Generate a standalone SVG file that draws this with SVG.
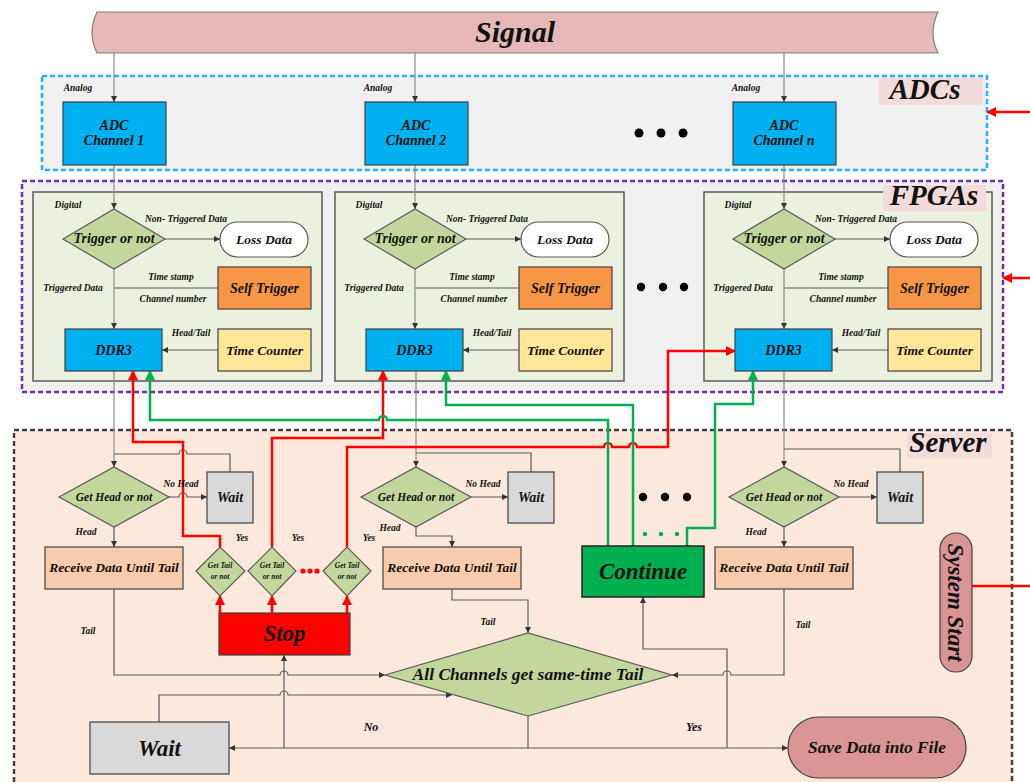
<svg xmlns="http://www.w3.org/2000/svg" width="1030" height="782" viewBox="0 0 1030 782">
<style>
.t{font-family:"Liberation Serif","Times New Roman",serif;font-weight:bold;font-style:italic;fill:#111;text-anchor:middle}
.lbl{font-size:9.5px}
.ln{fill:none;stroke:#5a5a5a;stroke-width:1.2}
.gr{fill:none;stroke:#8c8c8c;stroke-width:1.2}
.rd{fill:none;stroke:#ff0000;stroke-width:2.5}
.gn{fill:none;stroke:#00b050;stroke-width:2.5}
.box{stroke:#404040;stroke-width:1.2}
.dia{fill:#c3d69b;stroke:#595959;stroke-width:1.2}
.adc{fill:#00b0f0}
.ddr{fill:#00b0f0}
.st{fill:#f79646}
.tc{fill:#ffe699}
.wait{fill:#d9d9d9}
.rcv{fill:#f8cbad}
.rose{fill:#da9694}
.tag{fill:#f2dcdb}
</style>
<defs>
<marker id="ak" markerUnits="userSpaceOnUse" markerWidth="6" markerHeight="6" refX="6" refY="3" orient="auto"><path d="M0,0 L6,3 L0,6 z" fill="#333"/></marker>
<marker id="ar" markerUnits="userSpaceOnUse" markerWidth="10" markerHeight="10" refX="9" refY="5" orient="auto"><path d="M0,0 L10,5 L0,10 z" fill="#ff0000"/></marker>
<marker id="ag" markerUnits="userSpaceOnUse" markerWidth="10" markerHeight="10" refX="9" refY="5" orient="auto"><path d="M0,0 L10,5 L0,10 z" fill="#00b050"/></marker>
</defs>
<rect width="1030" height="782" fill="#ffffff"/>

<g id="containers">
  <rect x="14" y="430" width="998" height="370" fill="#fce9dc" stroke="#404040" stroke-width="2.5" stroke-dasharray="5,3"/>
  <rect x="907" y="433" width="85" height="25" class="tag"/>
  <text class="t" x="948" y="452" font-size="29">Server</text>
  <rect x="42" y="76" width="945" height="94" fill="#f0f0f0" stroke="#1fb4f0" stroke-width="2.5" stroke-dasharray="5,3"/>
  <rect x="879" y="78" width="104" height="27" class="tag"/>
  <text class="t" x="925" y="99" font-size="29">ADCs</text>
  <rect x="22" y="181" width="981" height="211" fill="#f0f0f0" stroke="#7030a0" stroke-width="2.5" stroke-dasharray="5,3"/>
  <rect x="33" y="192" width="289" height="189" fill="#ebf1de" stroke="#595959" stroke-width="1.5"/>
  <rect x="335" y="192" width="289" height="189" fill="#ebf1de" stroke="#595959" stroke-width="1.5"/>
  <rect x="704" y="192" width="288" height="189" fill="#ebf1de" stroke="#595959" stroke-width="1.5"/>
  <rect x="883" y="185" width="103" height="26" class="tag"/>
  <text class="t" x="934" y="205" font-size="29">FPGAs</text>
</g>

<g id="connectors">
  <path class="gr" d="M114,53 V102" marker-end="url(#ak)"/>
  <path class="gr" d="M415,53 V102" marker-end="url(#ak)"/>
  <path class="gr" d="M784,53 V102" marker-end="url(#ak)"/>
  <path class="gr" d="M114,165 V209" marker-end="url(#ak)"/>
  <path class="gr" d="M415,165 V209" marker-end="url(#ak)"/>
  <path class="gr" d="M784,165 V209" marker-end="url(#ak)"/>
  <path class="ln" d="M165,239 H220" marker-end="url(#ak)"/>
  <path class="ln" d="M466,239 H521" marker-end="url(#ak)"/>
  <path class="ln" d="M835,239 H890" marker-end="url(#ak)"/>
  <path class="ln" d="M114,288 H218"/>
  <path class="ln" d="M415,288 H519"/>
  <path class="ln" d="M784,288 H888"/>
  <path class="gr" d="M114,269 V329" marker-end="url(#ak)"/>
  <path class="gr" d="M415,269 V329" marker-end="url(#ak)"/>
  <path class="gr" d="M784,269 V329" marker-end="url(#ak)"/>
  <path class="ln" d="M218,350 H162" marker-end="url(#ak)"/>
  <path class="ln" d="M519,350 H463" marker-end="url(#ak)"/>
  <path class="ln" d="M888,350 H832" marker-end="url(#ak)"/>
  <path class="gr" d="M114,371 V467" marker-end="url(#ak)"/>
  <path class="gr" d="M416,371 V467" marker-end="url(#ak)"/>
  <path class="gr" d="M784,371 V467" marker-end="url(#ak)"/>
  <path class="ln" d="M230,472 V454 H187 a4,4 0 0 0 -8,0 H114"/>
  <path class="ln" d="M531,472 V453 H416"/>
  <path class="ln" d="M900,472 V449 H784"/>
  <path class="ln" d="M169,497 H179 a4,4 0 0 1 8,0 H207" marker-end="url(#ak)"/>
  <path class="ln" d="M471,497 H508" marker-end="url(#ak)"/>
  <path class="ln" d="M839,497 H877" marker-end="url(#ak)"/>
  <path class="ln" d="M114,527 V547" marker-end="url(#ak)"/>
  <path class="ln" d="M416,527 V536 H452 V547" marker-end="url(#ak)"/>
  <path class="ln" d="M784,527 V547" marker-end="url(#ak)"/>
  <path class="ln" d="M114,589 V675 H280 a4,4 0 0 1 8,0 H385" marker-end="url(#ak)"/>
  <path class="ln" d="M452,589 V600 H528 V633" marker-end="url(#ak)"/>
  <path class="ln" d="M784,589 V675 H731 a4,4 0 0 0 -8,0 H672" marker-end="url(#ak)"/>
  <path class="ln" d="M159,722 V695 H280 a4,4 0 0 1 8,0 H452" marker-end="url(#ak)"/>
  <path class="ln" d="M528,716 V748 H229" marker-end="url(#ak)"/>
  <path class="ln" d="M528,748 H788" marker-end="url(#ak)"/>
  <path class="ln" d="M284,748 V655" marker-end="url(#ak)"/>
  <path class="ln" d="M727,748 V649 H643 V597" marker-end="url(#ak)"/>
  <path class="rd" d="M220,547 V536 H183 V442 H133 V371" marker-end="url(#ar)"/>
  <path class="rd" d="M272,547 V438 H383 V371" marker-end="url(#ar)"/>
  <path class="rd" d="M347,547 V447 H604 a4,4 0 0 1 8,0 H629 a4,4 0 0 1 8,0 H668 V351 H735" marker-end="url(#ar)"/>
  <path class="rd" d="M220,613 V596" marker-end="url(#ar)"/>
  <path class="rd" d="M272,613 V596" marker-end="url(#ar)"/>
  <path class="rd" d="M347,613 V596" marker-end="url(#ar)"/>
  <path class="rd" d="M1030,112 H987" marker-end="url(#ar)"/>
  <path class="rd" d="M1030,278 H1003" marker-end="url(#ar)"/>
  <path class="rd" d="M972,586 H1030"/>
  <circle cx="303" cy="571" r="2.6" fill="#ff0000"/>
  <circle cx="310" cy="571" r="2.6" fill="#ff0000"/>
  <circle cx="317" cy="571" r="2.6" fill="#ff0000"/>
  <path class="gn" d="M608,546 V420 H387 a4,4 0 0 0 -8,0 H150 V371" marker-end="url(#ag)"/>
  <path class="gn" d="M633,546 V405 H446 V371" marker-end="url(#ag)"/>
  <path class="gn" d="M687,546 V528 H715 V404 H753 V371" marker-end="url(#ag)"/>
  <circle cx="645" cy="534" r="2.2" fill="#00b050"/>
  <circle cx="661" cy="534" r="2.2" fill="#00b050"/>
  <circle cx="677" cy="534" r="2.2" fill="#00b050"/>
</g>

<g id="signal">
  <path d="M97,12 L938,12 Q928,33 938,53 L97,53 Q87,33 97,12 Z" fill="#e6b9b8" stroke="#7f7f7f" stroke-width="1.2"/>
  <text class="t" x="515" y="42" font-size="30">Signal</text>
</g>

<g id="adc1"><rect x="63" y="102" width="103" height="63" class="adc box"/><text class="t" x="114" y="130" font-size="14">ADC</text><text class="t" x="114" y="145" font-size="14">Channel 1</text><text class="t lbl" x="78" y="91" font-size="9">Analog</text></g>
<g id="adc2"><rect x="365" y="102" width="103" height="63" class="adc box"/><text class="t" x="416" y="130" font-size="14">ADC</text><text class="t" x="416" y="145" font-size="14">Channel 2</text><text class="t lbl" x="378" y="91" font-size="9">Analog</text></g>
<g id="adcn"><rect x="733" y="102" width="103" height="63" class="adc box"/><text class="t" x="784" y="130" font-size="14">ADC</text><text class="t" x="784" y="145" font-size="14">Channel n</text><text class="t lbl" x="746" y="91" font-size="9">Analog</text></g>
<g id="adc-dots"><circle cx="639" cy="133" r="4.5" fill="#000"/><circle cx="661" cy="133" r="4.5" fill="#000"/><circle cx="683" cy="133" r="4.5" fill="#000"/></g>

<g id="fpga1">
  <polygon points="63,239 114,209 165,239 114,269" class="dia"/>
  <text class="t" x="114" y="243" font-size="14">Trigger or not</text>
  <rect x="220" y="222" width="88" height="35" rx="17.5" fill="#fff" stroke="#595959" stroke-width="1.2"/>
  <text class="t" x="264" y="244" font-size="13.5">Loss Data</text>
  <rect x="218" y="267" width="93" height="42" class="st box"/>
  <text class="t" x="264.5" y="293" font-size="14">Self Trigger</text>
  <rect x="65" y="329" width="97" height="42" class="ddr box"/>
  <text class="t" x="113.5" y="355" font-size="14">DDR3</text>
  <rect x="218" y="329" width="93" height="42" class="tc box"/>
  <text class="t" x="264.5" y="355" font-size="13.5">Time Counter</text>
  <text class="t lbl" x="68" y="208">Digital</text>
  <text class="t lbl" x="186" y="222">Non- Triggered Data</text>
  <text class="t lbl" x="171" y="280">Time stamp</text>
  <text class="t lbl" x="173" y="302">Channel number</text>
  <text class="t lbl" x="73" y="291">Triggered Data</text>
  <text class="t lbl" x="191" y="336">Head/Tail</text>
</g>
<g id="fpga2" transform="translate(301,0)">
  <polygon points="63,239 114,209 165,239 114,269" class="dia"/>
  <text class="t" x="114" y="243" font-size="14">Trigger or not</text>
  <rect x="220" y="222" width="88" height="35" rx="17.5" fill="#fff" stroke="#595959" stroke-width="1.2"/>
  <text class="t" x="264" y="244" font-size="13.5">Loss Data</text>
  <rect x="218" y="267" width="93" height="42" class="st box"/>
  <text class="t" x="264.5" y="293" font-size="14">Self Trigger</text>
  <rect x="65" y="329" width="97" height="42" class="ddr box"/>
  <text class="t" x="113.5" y="355" font-size="14">DDR3</text>
  <rect x="218" y="329" width="93" height="42" class="tc box"/>
  <text class="t" x="264.5" y="355" font-size="13.5">Time Counter</text>
  <text class="t lbl" x="68" y="208">Digital</text>
  <text class="t lbl" x="186" y="222">Non- Triggered Data</text>
  <text class="t lbl" x="171" y="280">Time stamp</text>
  <text class="t lbl" x="173" y="302">Channel number</text>
  <text class="t lbl" x="73" y="291">Triggered Data</text>
  <text class="t lbl" x="191" y="336">Head/Tail</text>
</g>
<g id="fpgan" transform="translate(670,0)">
  <polygon points="63,239 114,209 165,239 114,269" class="dia"/>
  <text class="t" x="114" y="243" font-size="14">Trigger or not</text>
  <rect x="220" y="222" width="88" height="35" rx="17.5" fill="#fff" stroke="#595959" stroke-width="1.2"/>
  <text class="t" x="264" y="244" font-size="13.5">Loss Data</text>
  <rect x="218" y="267" width="93" height="42" class="st box"/>
  <text class="t" x="264.5" y="293" font-size="14">Self Trigger</text>
  <rect x="65" y="329" width="97" height="42" class="ddr box"/>
  <text class="t" x="113.5" y="355" font-size="14">DDR3</text>
  <rect x="218" y="329" width="93" height="42" class="tc box"/>
  <text class="t" x="264.5" y="355" font-size="13.5">Time Counter</text>
  <text class="t lbl" x="68" y="208">Digital</text>
  <text class="t lbl" x="186" y="222">Non- Triggered Data</text>
  <text class="t lbl" x="171" y="280">Time stamp</text>
  <text class="t lbl" x="173" y="302">Channel number</text>
  <text class="t lbl" x="73" y="291">Triggered Data</text>
  <text class="t lbl" x="191" y="336">Head/Tail</text>
</g>
<g id="fpga-dots"><circle cx="641" cy="287" r="4.2" fill="#000"/><circle cx="663" cy="287" r="4.2" fill="#000"/><circle cx="684" cy="287" r="4.2" fill="#000"/></g>

<g id="server1">
  <polygon points="59,497 114,467 169,497 114,527" class="dia"/>
  <text class="t" x="114" y="501" font-size="11.5">Get Head or not</text>
  <rect x="207" y="472" width="46" height="51" class="wait box"/>
  <text class="t" x="230" y="502" font-size="14">Wait</text>
  <rect x="45" y="547" width="138" height="42" class="rcv box"/>
  <text class="t" x="114" y="572" font-size="13.5">Receive Data Until Tail</text>
  <text class="t lbl" x="181" y="487">No Head</text>
  <text class="t lbl" x="86" y="535">Head</text>
  <text class="t lbl" x="88" y="634" font-size="8.5">Tail</text>
</g>
<g id="server2">
  <polygon points="361,497 416,467 471,497 416,527" class="dia"/>
  <text class="t" x="416" y="501" font-size="11.5">Get Head or not</text>
  <rect x="508" y="472" width="46" height="51" class="wait box"/>
  <text class="t" x="531" y="502" font-size="14">Wait</text>
  <rect x="383" y="547" width="138" height="42" class="rcv box"/>
  <text class="t" x="452" y="572" font-size="13.5">Receive Data Until Tail</text>
  <text class="t lbl" x="483" y="487">No Head</text>
  <text class="t lbl" x="390" y="531">Head</text>
  <text class="t lbl" x="488" y="625" font-size="8.5">Tail</text>
</g>
<g id="servern">
  <polygon points="729,497 784,467 839,497 784,527" class="dia"/>
  <text class="t" x="784" y="501" font-size="11.5">Get Head or not</text>
  <rect x="877" y="472" width="46" height="51" class="wait box"/>
  <text class="t" x="900" y="502" font-size="14">Wait</text>
  <rect x="715" y="547" width="138" height="42" class="rcv box"/>
  <text class="t" x="784" y="572" font-size="13.5">Receive Data Until Tail</text>
  <text class="t lbl" x="851" y="487">No Head</text>
  <text class="t lbl" x="756" y="535">Head</text>
  <text class="t lbl" x="803" y="628" font-size="8.5">Tail</text>
</g>
<g id="server-dots"><circle cx="643" cy="497" r="4.2" fill="#000"/><circle cx="665" cy="497" r="4.2" fill="#000"/><circle cx="687" cy="497" r="4.2" fill="#000"/></g>

<g id="gettail1"><polygon points="196,571 220,547 245,571 220,596" class="dia"/><text class="t" x="220" y="568" font-size="7.5">Get Tail</text><text class="t" x="220" y="579" font-size="7.5">or not</text><text class="t lbl" x="242" y="541" font-size="8.5">Yes</text></g>
<g id="gettail2"><polygon points="248,571 272,547 296,571 272,596" class="dia"/><text class="t" x="272" y="568" font-size="7.5">Get Tail</text><text class="t" x="272" y="579" font-size="7.5">or not</text><text class="t lbl" x="298" y="541" font-size="8.5">Yes</text></g>
<g id="gettail3"><polygon points="323,571 347,547 371,571 347,596" class="dia"/><text class="t" x="347" y="568" font-size="7.5">Get Tail</text><text class="t" x="347" y="579" font-size="7.5">or not</text><text class="t lbl" x="369" y="541" font-size="8.5">Yes</text></g>

<g id="stop"><rect x="219" y="613" width="131" height="42" fill="#ff0000" stroke="#404040" stroke-width="1.2"/><text class="t" x="284.5" y="641" font-size="23">Stop</text></g>
<g id="continue"><rect x="582" y="546" width="122" height="51" fill="#00b050" stroke="#222" stroke-width="1.5"/><text class="t" x="643" y="579" font-size="23">Continue</text></g>
<g id="allchannels"><polygon points="385,675 528,633 672,675 528,716" class="dia"/><text class="t" x="528" y="680" font-size="17.5">All Channels get same-time Tail</text></g>
<g id="wait-main"><rect x="90" y="722" width="139" height="52" class="wait box"/><text class="t" x="159.5" y="756" font-size="23">Wait</text></g>
<g id="savedata"><rect x="788" y="717" width="178" height="61" rx="30.5" class="rose box"/><text class="t" x="877" y="753" font-size="17.3">Save Data into File</text></g>
<g id="systemstart"><rect x="940" y="533" width="32" height="139" rx="16" class="rose box"/><text class="t" transform="translate(956,602.5) rotate(90)" x="0" y="8" font-size="23">System Start</text></g>
<g id="edge-labels"><text class="t" x="371" y="731" font-size="12">No</text><text class="t" x="694" y="731" font-size="12">Yes</text></g>
</svg>
